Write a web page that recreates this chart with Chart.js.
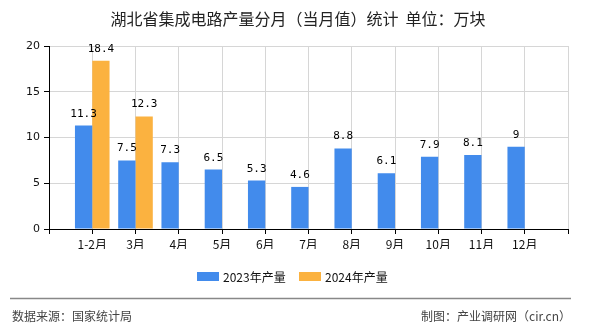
<!DOCTYPE html>
<html>
<head>
<meta charset="utf-8">
<script src="https://cdn.jsdelivr.net/npm/chart.js@4"></script>
<style>
    html, body { margin: 0; padding: 0; background: #fff; }
    #wrap { width: 590px; height: 330px; position: relative; }
</style>
</head>
<body>
<div id="wrap"><canvas id="chart" width="590" height="330"></canvas></div>
<script>
const months = ['1-2月', '3月', '4月', '5月', '6月', '7月', '8月', '9月', '10月', '11月', '12月'];
const output2023 = [11.3, 7.5, 7.3, 6.5, 5.3, 4.6, 8.8, 6.1, 7.9, 8.1, 9];
const output2024 = [18.4, 12.3, null, null, null, null, null, null, null, null, null];
const seriesNames = ['2023年产量', '2024年产量'];
const seriesColors = ['#428BEC', '#FBB240'];
const yTicks = [0, 5, 10, 15, 20];

const titleText = '湖北省集成电路产量分月（当月值）统计  单位：万块';
const sourceText = '数据来源：国家统计局';
const creditText = '制图：产业调研网（cir.cn）';

const CJK = '"Noto Sans CJK SC", "Noto Sans", sans-serif';

// blank slot at each end so the axis runs one step past the first and last month
const labels = [''].concat(months, ['']);
const pad = arr => [null].concat(arr, [null]);

// value labels over each bar
const valueLabels = {
    id: 'valueLabels',
    afterDatasetsDraw(chart) {
        const ctx = chart.ctx;
        ctx.save();
        ctx.font = '11px "DejaVu Sans Mono", monospace';
        ctx.fillStyle = '#000';
        ctx.textAlign = 'center';
        ctx.textBaseline = 'alphabetic';
        chart.data.datasets.forEach((ds, i) => {
            chart.getDatasetMeta(i).data.forEach((bar, j) => {
                const v = ds.data[j];
                if (v === null || v === undefined) return;
                ctx.fillText(String(v), bar.x, bar.y - 9);
            });
        });
        ctx.restore();
    }
};

// title, legend and footer
const decorations = {
    id: 'decorations',
    afterDraw(chart) {
        const ctx = chart.ctx;
        ctx.save();
        ctx.fillStyle = '#222';
        ctx.font = '16px ' + CJK;
        ctx.textAlign = 'center';
        ctx.textBaseline = 'middle';
        ctx.fillText(titleText, 298, 19);

        // legend
        ctx.font = '12px ' + CJK;
        ctx.textAlign = 'left';
        const legendX = [197, 299];
        chart.data.datasets.forEach((ds, i) => {
            ctx.fillStyle = ds.backgroundColor;
            ctx.fillRect(legendX[i], 272, 22, 9);
            ctx.fillStyle = '#111';
            ctx.fillText(ds.label, legendX[i] + 26, 277);
        });

        // footer
        ctx.strokeStyle = '#888';
        ctx.lineWidth = 1.5;
        ctx.beginPath();
        ctx.moveTo(10, 298.5);
        ctx.lineTo(571, 298.5);
        ctx.stroke();

        ctx.fillStyle = '#444';
        ctx.font = '12px ' + CJK;
        ctx.textAlign = 'left';
        ctx.fillText(sourceText, 12, 316);
        ctx.textAlign = 'right';
        ctx.fillText(creditText, 571, 316);
        ctx.restore();
    }
};

new Chart(document.getElementById('chart'), {
    type: 'bar',
    data: {
        labels: labels,
        datasets: [
            { label: seriesNames[0], data: pad(output2023), backgroundColor: seriesColors[0] },
            { label: seriesNames[1], data: pad(output2024), backgroundColor: seriesColors[1] }
        ]
    },
    options: {
        responsive: false,
        animation: false,
        events: [],
        categoryPercentage: 0.8,
        barPercentage: 1.0,
        layout: { padding: { top: 46, left: 0, right: 22, bottom: 81 } },
        plugins: {
            legend: { display: false },
            title: { display: false },
            tooltip: { enabled: false }
        },
        scales: {
            x: {
                offset: false,
                grid: { color: '#d6d6d6', tickColor: '#000', tickLength: 5, offset: false },
                border: { color: '#000', width: 1 },
                ticks: {
                    font: { family: CJK, size: 12 },
                    color: '#111',
                    padding: 3,
                    autoSkip: false,
                    maxRotation: 0
                },
                afterFit(scale) { scale.height = 20; }
            },
            y: {
                min: 0,
                max: 20,
                afterBuildTicks(scale) { scale.ticks = yTicks.map(v => ({ value: v })); },
                grid: { color: '#d6d6d6', tickColor: '#000', tickLength: 5 },
                border: { color: '#000', width: 1 },
                ticks: {
                    font: { family: '"DejaVu Sans", sans-serif', size: 11 },
                    color: '#111',
                    padding: 4
                },
                afterFit(scale) { scale.width = 49; }
            }
        }
    },
    plugins: [valueLabels, decorations]
});
</script>
</body>
</html>
